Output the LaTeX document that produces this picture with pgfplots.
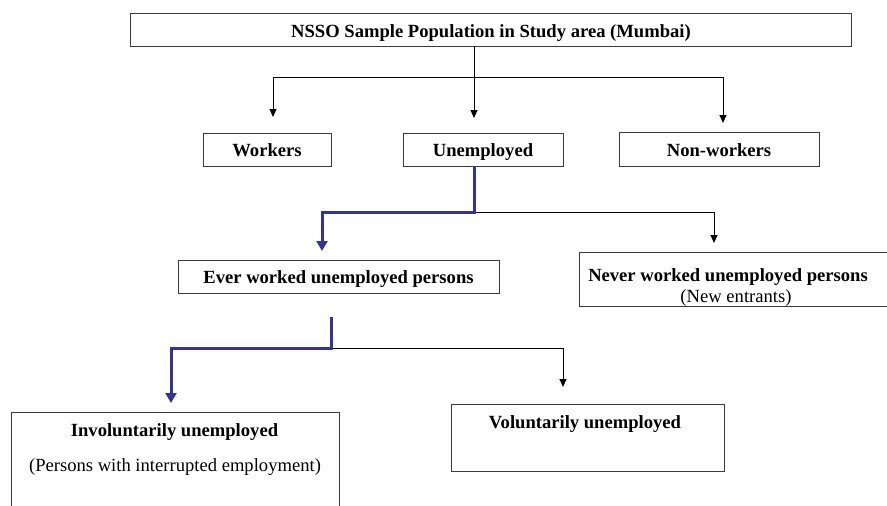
\documentclass[border=0pt]{standalone}
\usepackage{pgfplots}
\pgfplotsset{compat=1.18}
\usepackage{fontspec}
\setmainfont{Liberation Serif}
\usetikzlibrary{arrows.meta}
\definecolor{flowblue}{RGB}{51,51,153}
\definecolor{boxline}{RGB}{60,60,60}
\begin{document}
\begin{tikzpicture}
\begin{axis}[
  hide axis, scale only axis,
  width=887pt, height=506pt,
  xmin=0, xmax=887, ymin=0, ymax=506,
  y dir=reverse,
  clip=true,
  every axis plot/.append style={line cap=rect, line join=miter},
]
% boxes
\addplot[boxline, line width=1pt] coordinates {(130,13) (851,13) (851,46) (130,46) (130,13)};
\addplot[boxline, line width=1pt] coordinates {(203,133) (331,133) (331,166) (203,166) (203,133)};
\addplot[boxline, line width=1pt] coordinates {(403,133) (563,133) (563,166) (403,166) (403,133)};
\addplot[boxline, line width=1pt] coordinates {(619,132) (819,132) (819,166) (619,166) (619,132)};
\addplot[boxline, line width=1pt] coordinates {(178,260) (499,260) (499,293) (178,293) (178,260)};
\addplot[boxline, line width=1pt] coordinates {(900,252) (579,252) (579,306) (900,306)};
\addplot[boxline, line width=1pt] coordinates {(11,520) (11,412) (339,412) (339,520)};
\addplot[boxline, line width=1pt] coordinates {(451,404) (724,404) (724,471) (451,471) (451,404)};
% black connectors
\addplot[black, line width=1pt, line cap=butt, -{Triangle[width=7pt,length=8pt]}] coordinates {(474,46) (474,118)};
\addplot[black, line width=1pt] coordinates {(273,77) (723,77)};
\addplot[black, line width=1pt, line cap=butt, -{Triangle[width=7pt,length=8pt]}] coordinates {(273,77) (273,117)};
\addplot[black, line width=1pt, line cap=butt, -{Triangle[width=7pt,length=8pt]}] coordinates {(723,77) (723,123)};
\addplot[black, line width=1pt, line cap=butt, -{Triangle[width=7pt,length=8pt]}] coordinates {(474,212) (714,212) (714,243)};
\addplot[black, line width=1pt, line cap=butt, -{Triangle[width=7pt,length=8pt]}] coordinates {(331,348) (563,348) (563,387)};
% blue connectors
\addplot[flowblue, line width=3pt, line cap=butt, -{Triangle[width=11pt,length=10pt]}] coordinates {(474,166) (474,212) (322,212) (322,251)};
\addplot[flowblue, line width=3pt, line cap=butt, -{Triangle[width=11pt,length=10pt]}] coordinates {(331,317) (331,348) (171,348) (171,403)};
% texts
\node[anchor=base, font=\fontsize{18.6}{22}\selectfont\bfseries] at (axis cs:491,37) {NSSO Sample Population in Study area (Mumbai)};
\node[anchor=base, font=\fontsize{18.6}{22}\selectfont\bfseries] at (axis cs:267,156) {Workers};
\node[anchor=base, font=\fontsize{18.6}{22}\selectfont\bfseries] at (axis cs:483,156) {Unemployed};
\node[anchor=base, font=\fontsize{18.6}{22}\selectfont\bfseries] at (axis cs:719,156) {Non-workers};
\node[anchor=base, font=\fontsize{18.6}{22}\selectfont\bfseries] at (axis cs:338.5,283.5) {Ever worked unemployed persons};
\node[anchor=base, font=\fontsize{18.6}{22}\selectfont\bfseries] at (axis cs:728,281.5) {Never worked unemployed persons};
\node[anchor=base, font=\fontsize{18.6}{22}\selectfont] at (axis cs:736,302.5) {(New entrants)};
\node[anchor=base, font=\fontsize{18.6}{22}\selectfont\bfseries] at (axis cs:174.5,436.5) {Involuntarily unemployed};
\node[anchor=base, font=\fontsize{18.6}{22}\selectfont] at (axis cs:175,471.5) {(Persons with interrupted employment)};
\node[anchor=base, font=\fontsize{18.6}{22}\selectfont\bfseries] at (axis cs:585,428.5) {Voluntarily unemployed};
\end{axis}
\pgfresetboundingbox
\useasboundingbox (current axis.south west) rectangle (current axis.north east);
\end{tikzpicture}
\end{document}
